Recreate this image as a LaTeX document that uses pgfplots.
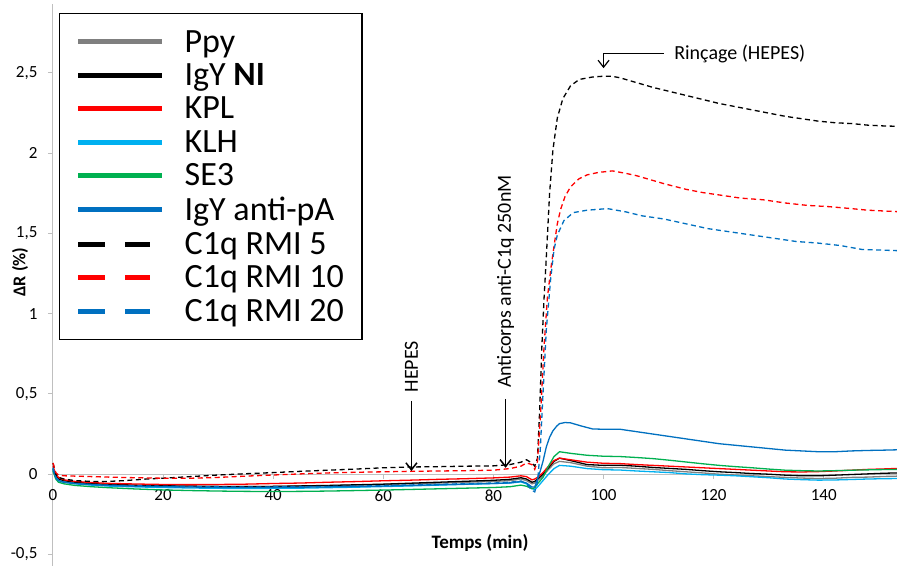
\documentclass[border=0pt]{standalone}
\usepackage{fontspec}
\setmainfont{Carlito}
\usepackage{pgfplots}
\pgfplotsset{compat=1.18}
\usetikzlibrary{arrows.meta}
\definecolor{cgray}{HTML}{7F7F7F}
\definecolor{cred}{HTML}{FF0000}
\definecolor{cklh}{HTML}{00B0F0}
\definecolor{cse3}{HTML}{00B050}
\definecolor{cblue}{HTML}{0070C0}
\definecolor{caxis}{HTML}{BFBFBF}
\pgfplotsset{
  solidleg/.style={legend image code/.code={\draw[##1, line width=5pt, solid] (0pt,0pt) -- (84pt,0pt);}},
  dashleg/.style={legend image code/.code={\draw[##1, line width=5pt, dash pattern=on 27pt off 20pt] (0pt,0pt) -- (72pt,0pt);}},
  sline/.style={line width=1.3pt, solid, solidleg},
  dline/.style={line width=1.3pt, dash pattern=on 5pt off 3.5pt, dashleg},
}
\begin{document}
\begin{tikzpicture}
\begin{axis}[
  name=ax,
  scale only axis, width=844pt, height=562pt,
  xmin=0, xmax=153.3, ymin=-0.572, ymax=2.93,
  axis y line=left, axis x line=middle,
  axis line style={caxis, line width=1pt, -},
  hide obscured x ticks=false,
  xtick={0,20,...,140},
  ytick={-0.5,0,0.5,1,1.5,2,2.5},
  tick style={caxis, line width=1pt},
  major tick length=5pt,
  tick align=outside,
  ticklabel style={font=\fontsize{17}{20}\selectfont, text=black},
  xticklabel style={yshift=-7pt},
  yticklabel style={xshift=-7pt},
  /pgf/number format/use comma,
  /pgf/number format/assume math mode=true,
  clip=false,
  xlabel={\textbf{Temps (min)}},
  xlabel style={at={(axis description cs:0.506,0.032)}, anchor=base, font=\fontsize{19}{22}\selectfont},
  ylabel={\textbf{ΔR (\%)}},
  ylabel style={at={(axis description cs:-0.039,0.523)}, anchor=center, font=\fontsize{18}{21}\selectfont},
  legend cell align=left,
  legend style={at={(axis description cs:0.007,0.984)}, anchor=north west, draw=black, line width=1.5pt,
    font=\fontsize{34}{36}\selectfont, fill=white, inner xsep=16pt, inner ysep=14.5pt, column sep=18pt, row sep=6pt},
]
\addplot[sline, cgray] coordinates {(0,0.04)(0.5,-0.01)(1,-0.03)(2,-0.045)(4,-0.055)(7,-0.062)(10,-0.068)(15,-0.072)(20,-0.075)(25,-0.077)(30,-0.078)(35,-0.077)(40,-0.076)(45,-0.074)(50,-0.072)(55,-0.068)(60,-0.064)(65,-0.06)(70,-0.055)(75,-0.05)(80,-0.045)(83,-0.04)(85,-0.03)(86,-0.04)(87,-0.06)(87.5,-0.055)(88,-0.04)(89,-0.01)(90,0.03)(91,0.065)(92,0.08)(94,0.072)(97,0.05)(100,0.04)(103,0.042)(106,0.036)(109,0.03)(112,0.022)(115,0.015)(118,0.008)(121,0.0)(124,-0.005)(127,-0.01)(130,-0.015)(133,-0.02)(136,-0.024)(139,-0.027)(142,-0.025)(145,-0.02)(148,-0.018)(151,-0.014)(153.3,-0.012)};
\addlegendentry{Ppy}
\addplot[sline, black] coordinates {(0,0.03)(0.5,-0.01)(1,-0.03)(2,-0.04)(4,-0.05)(7,-0.058)(10,-0.063)(15,-0.068)(20,-0.072)(25,-0.074)(30,-0.076)(35,-0.077)(40,-0.076)(45,-0.073)(50,-0.07)(55,-0.066)(60,-0.062)(65,-0.056)(70,-0.05)(75,-0.044)(80,-0.038)(83,-0.032)(85,-0.022)(86,-0.03)(87,-0.05)(87.5,-0.045)(88,-0.03)(89,0.0)(90,0.04)(91,0.08)(92,0.1)(94,0.085)(97,0.06)(100,0.055)(103,0.056)(106,0.05)(109,0.042)(112,0.036)(115,0.03)(118,0.022)(121,0.015)(124,0.01)(127,0.004)(130,0.0)(133,-0.006)(136,-0.01)(139,-0.01)(142,-0.006)(145,-0.002)(148,0.002)(151,0.006)(153.3,0.008)};
\addlegendentry{IgY \textbf{NI}}
\addplot[sline, cred] coordinates {(0,0.05)(0.5,0.0)(1,-0.02)(2,-0.035)(4,-0.045)(7,-0.052)(10,-0.057)(15,-0.061)(20,-0.064)(25,-0.065)(30,-0.064)(35,-0.062)(40,-0.058)(45,-0.055)(50,-0.05)(55,-0.046)(60,-0.041)(65,-0.037)(70,-0.032)(75,-0.028)(80,-0.023)(83,-0.018)(85,-0.01)(86,-0.015)(87,-0.035)(87.5,-0.03)(88,-0.02)(89,0.01)(90,0.05)(91,0.085)(92,0.1)(94,0.09)(97,0.075)(100,0.068)(103,0.066)(106,0.06)(109,0.055)(112,0.05)(115,0.045)(118,0.04)(121,0.035)(124,0.03)(127,0.025)(130,0.02)(133,0.015)(136,0.014)(139,0.016)(142,0.02)(145,0.025)(148,0.03)(151,0.033)(153.3,0.036)};
\addlegendentry{KPL}
\addplot[sline, cklh] coordinates {(0,0.03)(0.5,-0.02)(1,-0.04)(2,-0.05)(4,-0.06)(7,-0.068)(10,-0.074)(15,-0.079)(20,-0.083)(25,-0.086)(30,-0.088)(35,-0.089)(40,-0.088)(45,-0.087)(50,-0.084)(55,-0.081)(60,-0.077)(65,-0.073)(70,-0.068)(75,-0.063)(80,-0.058)(83,-0.055)(85,-0.048)(86,-0.06)(87,-0.09)(87.5,-0.095)(88,-0.08)(89,-0.04)(90,0.0)(91,0.035)(92,0.055)(94,0.05)(97,0.035)(100,0.028)(103,0.026)(106,0.02)(109,0.015)(112,0.01)(115,0.002)(118,-0.003)(121,-0.006)(124,-0.01)(127,-0.016)(130,-0.022)(133,-0.03)(136,-0.034)(139,-0.037)(142,-0.036)(145,-0.033)(148,-0.03)(151,-0.028)(153.3,-0.027)};
\addlegendentry{KLH}
\addplot[sline, cse3] coordinates {(0,0.02)(0.5,-0.03)(1,-0.05)(2,-0.06)(4,-0.07)(7,-0.078)(10,-0.084)(15,-0.092)(20,-0.098)(25,-0.102)(30,-0.105)(35,-0.107)(40,-0.108)(45,-0.107)(50,-0.105)(55,-0.102)(60,-0.099)(65,-0.095)(70,-0.091)(75,-0.087)(80,-0.083)(83,-0.078)(85,-0.068)(86,-0.075)(87,-0.09)(87.5,-0.085)(88,-0.06)(89,-0.02)(90,0.05)(91,0.11)(92,0.14)(94,0.13)(97,0.118)(100,0.112)(103,0.11)(106,0.104)(109,0.097)(112,0.087)(115,0.076)(118,0.065)(121,0.055)(124,0.047)(127,0.04)(130,0.032)(133,0.025)(136,0.022)(139,0.02)(142,0.022)(145,0.025)(148,0.027)(151,0.029)(153.3,0.03)};
\addlegendentry{SE3}
\addplot[sline, cblue] coordinates {(0,0.03)(0.5,-0.02)(1,-0.04)(2,-0.05)(4,-0.058)(7,-0.065)(10,-0.07)(15,-0.075)(20,-0.078)(25,-0.08)(30,-0.082)(35,-0.083)(40,-0.082)(45,-0.081)(50,-0.079)(55,-0.077)(60,-0.074)(65,-0.07)(70,-0.066)(75,-0.062)(80,-0.058)(83,-0.054)(85,-0.045)(86,-0.055)(87,-0.08)(87.5,-0.08)(88,-0.03)(88.5,0.02)(89,0.08)(89.6,0.17)(90.2,0.23)(90.8,0.27)(91.5,0.3)(92,0.315)(93,0.322)(94,0.32)(96,0.3)(98,0.282)(100,0.28)(103,0.28)(106,0.265)(109,0.25)(112,0.235)(115,0.22)(118,0.205)(121,0.19)(124,0.18)(127,0.17)(130,0.16)(133,0.15)(136,0.145)(139,0.14)(142,0.14)(145,0.145)(148,0.148)(151,0.15)(153.3,0.152)};
\addlegendentry{IgY anti-pA}
\addplot[dline, black] coordinates {(0,0.07)(0.5,0.0)(1,-0.02)(2,-0.03)(4,-0.04)(7,-0.045)(10,-0.045)(13,-0.04)(17,-0.03)(20,-0.025)(25,-0.015)(30,-0.005)(35,0.003)(40,0.01)(45,0.018)(50,0.025)(55,0.032)(60,0.04)(65,0.045)(70,0.047)(75,0.05)(80,0.052)(83,0.06)(85,0.075)(86,0.09)(87,0.07)(87.5,0.05)(88,0.1)(88.4,0.4)(88.8,0.8)(89.2,1.1)(89.6,1.35)(90.2,1.75)(90.8,2.02)(91.6,2.22)(92.6,2.34)(94,2.42)(95.6,2.46)(98,2.475)(100,2.48)(101.5,2.48)(103,2.47)(105,2.45)(107,2.43)(109,2.41)(112,2.385)(115,2.36)(118,2.335)(121,2.31)(124,2.29)(127,2.27)(130,2.25)(133,2.23)(136,2.215)(139,2.2)(142,2.19)(145,2.185)(148,2.175)(151,2.17)(153.3,2.168)};
\addlegendentry{C1q RMI 5}
\addplot[dline, cred] coordinates {(0,0.07)(0.5,0.01)(1,-0.005)(2,-0.01)(4,-0.012)(7,-0.015)(10,-0.018)(15,-0.022)(20,-0.025)(25,-0.025)(30,-0.02)(35,-0.012)(40,-0.005)(45,0.002)(50,0.008)(55,0.012)(60,0.015)(65,0.018)(70,0.02)(75,0.022)(80,0.025)(83,0.035)(85,0.05)(86,0.07)(87,0.06)(87.5,0.03)(88,0.08)(88.6,0.4)(89.2,0.8)(89.8,1.1)(90.5,1.3)(91,1.42)(91.6,1.56)(92.2,1.65)(93,1.73)(94,1.79)(95.5,1.84)(97,1.865)(99,1.88)(101.6,1.89)(104,1.875)(106,1.86)(109,1.83)(111,1.81)(115,1.775)(118,1.755)(121,1.74)(125,1.72)(129,1.71)(133,1.69)(137,1.675)(141,1.667)(145,1.655)(148,1.645)(151,1.64)(153.3,1.636)};
\addlegendentry{C1q RMI 10}
\addplot[dline, cblue] coordinates {(0,0.04)(0.5,-0.02)(1,-0.04)(2,-0.05)(4,-0.058)(7,-0.064)(10,-0.068)(15,-0.072)(20,-0.075)(25,-0.077)(30,-0.079)(35,-0.08)(40,-0.079)(45,-0.078)(50,-0.076)(55,-0.074)(60,-0.071)(65,-0.067)(70,-0.063)(75,-0.059)(80,-0.055)(83,-0.05)(85,-0.042)(86,-0.06)(87,-0.1)(87.5,-0.11)(88,-0.05)(88.5,0.15)(89,0.5)(89.6,0.9)(90.4,1.22)(91,1.4)(91.6,1.49)(92.8,1.58)(94.5,1.63)(97,1.645)(100.7,1.655)(104,1.635)(107,1.61)(111,1.59)(115,1.56)(119,1.53)(123,1.51)(127,1.49)(131,1.47)(135,1.45)(139,1.44)(143,1.425)(147,1.4)(150,1.397)(153.3,1.393)};
\addlegendentry{C1q RMI 20}
% annotations
\draw[-{Straight Barb[length=7pt,width=11pt]}, line width=1.5pt] (axis cs:65.1,0.457) -- (axis cs:65.1,0.02);
\node[rotate=90, font=\fontsize{20}{24}\selectfont] at (axis cs:65.1,0.67) {HEPES};
\draw[-{Straight Barb[length=7pt,width=11pt]}, line width=1.5pt] (axis cs:82.2,0.47) -- (axis cs:82.2,0.04);
\node[rotate=90, font=\fontsize{20}{24}\selectfont] at (axis cs:82.2,1.2) {Anticorps anti-C1q 250nM};
\draw[-{Straight Barb[length=7pt,width=11pt]}, line width=1.2pt] (axis cs:110.9,2.62) -- (axis cs:100,2.62) -- (axis cs:100,2.53);
\node[anchor=west, font=\fontsize{20}{24}\selectfont] at (axis cs:112.2,2.62) {Rinçage (HEPES)};
\end{axis}
\pgfresetboundingbox
\path[use as bounding box] ([xshift=-53pt,yshift=-1pt]ax.south west) rectangle ([yshift=4pt]ax.north east);
\end{tikzpicture}
\end{document}
